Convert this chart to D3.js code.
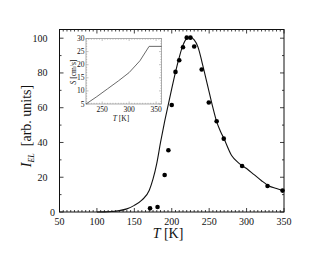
<!DOCTYPE html>
<html><head><meta charset="utf-8">
<script src="https://cdn.jsdelivr.net/npm/d3@7"></script>
<style>body{margin:0;background:#fff}svg{display:block}text{font-family:"Liberation Serif","DejaVu Serif",serif;fill:#111}</style>
</head><body>
<script>
// Main data: electroluminescence vs temperature
const dotT = [171,181,190.5,195.5,200,205,210,215,220,225,230,240,249.5,260,269.5,294,328,348];
const dotI = [2.1,2.9,21.3,35.5,61.6,80.6,87.3,94.8,100.3,100.3,95.2,82,63,52.2,42.2,26.5,15,12.3];
const fitT = [100,110,120,130,140,150,160,170,175,180,185,190,195,200,205,210,215,220,225,230,235,240,245,250,255,260,265,270,280,290,300,310,320,330,340,350];
const fitI = [0,0.05,0.3,0.8,1.8,3.8,6.8,12.5,19,28,40,51,61,71,80.5,89,96,99.7,100.5,99,95,87,78,69,60,52,46.5,42,32.5,28,25,21.5,18,15,13.5,12];
const xTicks = [50,100,150,200,250,300,350];
const yTicks = [0,20,40,60,80,100];
// Inset data: S vs T
const insT = [220,240,260,280,300,320,337,360];
const insS = [5,7.8,10.8,13.8,17,21.5,27,27];
const insXTicks = [250,300,350];
const insYTicks = [5,10,15,20,25,30];

const W = 330, H = 255;
const svg = d3.select("body").append("svg").attr("width", W).attr("height", H);
const L = 59.5, R = 284, T = 29.5, B = 212;
const x = d3.scaleLinear().domain([50,350]).range([L,R]);
const y = d3.scaleLinear().domain([0,105]).range([B,T]);

// Ticks (inward) on all four sides
const g = svg.append("g").attr("stroke","#111").attr("stroke-width",0.8);
d3.range(50,351,5).forEach(v=>{
  const len = v%50===0?4:2;
  g.append("line").attr("x1",x(v)).attr("x2",x(v)).attr("y1",B).attr("y2",B-len);
  g.append("line").attr("x1",x(v)).attr("x2",x(v)).attr("y1",T).attr("y2",T+len);
});
d3.range(0,101,10).forEach(v=>{
  const len = v%20===0?4:2;
  g.append("line").attr("x1",L).attr("x2",L+len).attr("y1",y(v)).attr("y2",y(v));
  g.append("line").attr("x1",R).attr("x2",R-len).attr("y1",y(v)).attr("y2",y(v));
});
svg.append("rect").attr("x",L).attr("y",T).attr("width",R-L).attr("height",B-T)
  .attr("fill","none").attr("stroke","#111").attr("stroke-width",1);

// Tick labels
svg.append("g").selectAll("text").data(xTicks).join("text")
  .attr("x",d=>x(d)).attr("y",224.5).attr("text-anchor","middle").attr("font-size",10).text(d=>d);
svg.append("g").selectAll("text").data(yTicks).join("text")
  .attr("x",d=>d===0?55:47.5).attr("y",d=>y(d)+3.5).attr("text-anchor","end").attr("font-size",10).text(d=>d);

// Axis titles
const xt = svg.append("text").attr("x",168).attr("y",238).attr("text-anchor","middle").attr("font-size",14);
xt.append("tspan").attr("font-style","italic").text("T");
xt.append("tspan").text("\u00a0[K]");
const yt = svg.append("text").attr("transform","translate(31,126) rotate(-90)").attr("text-anchor","middle").attr("font-size",14);
yt.append("tspan").attr("font-style","italic").text("I");
yt.append("tspan").attr("font-style","italic").attr("font-size",8).attr("dy",3).text("EL");
yt.append("tspan").attr("dy",-3).text("\u00a0\u00a0[arb. units]");

// Fit curve
const line = d3.line().x((d,i)=>x(fitT[i])).y((d,i)=>y(fitI[i])).curve(d3.curveMonotoneX);
svg.append("path").attr("d",line(fitT)).attr("fill","none").attr("stroke","#111").attr("stroke-width",1.1);
// Data points
svg.append("g").selectAll("circle").data(dotT).join("circle")
  .attr("cx",d=>x(d)).attr("cy",(d,i)=>y(dotI[i])).attr("r",2.3).attr("fill","#000");

// Inset
const iL = 86, iR = 161.5, iT = 38.5, iB = 104;
const ix = d3.scaleLinear().domain([220,360]).range([iL,iR]);
const iy = d3.scaleLinear().domain([5,30]).range([iB,iT]);
svg.append("rect").attr("x",iL).attr("y",iT).attr("width",iR-iL).attr("height",iB-iT)
  .attr("fill","#fff").attr("stroke","#999").attr("stroke-width",0.8);
const ig = svg.append("g").attr("stroke","#999").attr("stroke-width",0.6);
d3.range(220,361,5).forEach(v=>{
  const len = v%50===0?2.5:1.2;
  ig.append("line").attr("x1",ix(v)).attr("x2",ix(v)).attr("y1",iB).attr("y2",iB-len);
  ig.append("line").attr("x1",ix(v)).attr("x2",ix(v)).attr("y1",iT).attr("y2",iT+len);
});
d3.range(5,30.1,1).forEach(v=>{
  const len = v%5===0?2.5:1.2;
  ig.append("line").attr("x1",iL).attr("x2",iL+len).attr("y1",iy(v)).attr("y2",iy(v));
  ig.append("line").attr("x1",iR).attr("x2",iR-len).attr("y1",iy(v)).attr("y2",iy(v));
});
svg.append("g").selectAll("text").data(insXTicks).join("text")
  .attr("x",d=>ix(d)).attr("y",112).attr("text-anchor","middle").attr("font-size",7.5).text(d=>d);
svg.append("g").selectAll("text").data(insYTicks).join("text")
  .attr("x",84.5).attr("y",d=>iy(d)+2.5).attr("text-anchor","end").attr("font-size",7.5).text(d=>d);
const ixt = svg.append("text").attr("x",121).attr("y",121).attr("text-anchor","middle").attr("font-size",7.5);
ixt.append("tspan").attr("font-style","italic").text("T");
ixt.append("tspan").text("\u00a0[K]");
const iyt = svg.append("text").attr("transform","translate(76,72) rotate(-90)").attr("text-anchor","middle").attr("font-size",7.5);
iyt.append("tspan").attr("font-style","italic").text("S");
iyt.append("tspan").text("\u00a0[cm/s]");
const iline = d3.line().x((d,i)=>ix(insT[i])).y((d,i)=>iy(insS[i]));
svg.append("path").attr("d",iline(insT)).attr("fill","none").attr("stroke","#444").attr("stroke-width",0.8);
</script>
</body></html>
